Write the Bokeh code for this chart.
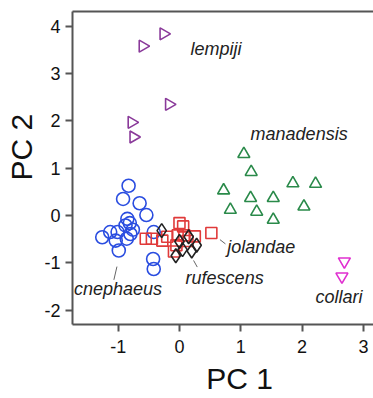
from bokeh.plotting import figure
from bokeh.models import LinearAxis, FixedTicker, Range1d
from bokeh.core.properties import value
from bokeh.embed import file_html
from bokeh.resources import INLINE
import numpy as np

# --- data ---
cn_x = [-0.83, -0.92, -0.65, -0.54, -0.85, -0.81, -0.88, -1.13, -1.26, -1.01, -0.80, -1.04, -0.86, -0.99, -0.42, -0.43, -0.42, -0.76]
cn_y = [0.63, 0.35, 0.26, 0.01, -0.07, -0.16, -0.21, -0.35, -0.46, -0.35, -0.39, -0.53, -0.49, -0.74, -0.35, -0.92, -1.13, -0.30]

jo_x = [-0.55, -0.45, -0.28, 0.00, 0.06, -0.03, 0.08, 0.13, -0.09, -0.05, 0.52, 0.25, -0.20]
jo_y = [-0.49, -0.49, -0.53, -0.16, -0.23, -0.42, -0.42, -0.54, -0.76, -0.63, -0.37, -0.44, -0.45]

ru_x = [-0.29, 0.00, -0.06, 0.05, 0.20, 0.28, 0.15]
ru_y = [-0.32, -0.55, -0.85, -0.72, -0.75, -0.63, -0.45]

ma_x = [1.05, 1.17, 0.72, 1.16, 1.53, 1.85, 2.22, 0.83, 1.26, 1.53, 2.03]
ma_y = [1.30, 0.92, 0.53, 0.37, 0.37, 0.68, 0.67, 0.12, 0.08, -0.09, 0.19]

le_x = [-0.60, -0.26, -0.17, -0.78, -0.75]
le_y = [3.58, 3.84, 2.35, 1.97, 1.66]

co_x = [2.69, 2.65]
co_y = [-0.97, -1.29]

# species labels
lab_text = ["lempiji", "manadensis", "jolandae", "rufescens", "cnephaeus", "collari"]
lab_x = [0.18, 1.16, 0.78, 0.10, -1.72, 2.22]
lab_y = [3.53, 1.73, -0.67, -1.33, -1.56, -1.73]

# leader lines
ld_x0 = [-1.02, 0.66, 0.23]
ld_y0 = [-1.08, -0.51, -0.95]
ld_x1 = [-1.07, 0.75, 0.29]
ld_y1 = [-1.36, -0.60, -1.09]

x_ticks = [-1, 0, 1, 2, 3]
y_ticks = [-2, -1, 0, 1, 2, 3, 4]
x_title, y_title = "PC 1", "PC 2"

FONT = "Liberation Sans"
AX = "#555555"
NB = "\u00a0"

p = figure(width=373, height=398, output_backend="svg", toolbar_location=None,
           x_range=Range1d(-1.745, 3.165), y_range=Range1d(-2.304, 4.313),
           min_border_left=72, min_border_right=0, min_border_top=11, min_border_bottom=74)
p.outline_line_color = None
p.grid.visible = False
p.background_fill_color = "white"
p.border_fill_color = "white"

for ax, ticks in ((p.xaxis[0], x_ticks), (p.yaxis[0], y_ticks)):
    ax.ticker = FixedTicker(ticks=ticks)
    ax.major_label_overrides = {t: str(t) for t in ticks}
    ax.major_label_text_font = FONT
    ax.major_label_text_font_size = "18px"
    ax.major_label_text_color = "#111111"
    ax.axis_label_text_font = FONT
    ax.axis_label_text_font_style = "normal"
    ax.axis_label_text_font_size = "30px"
    ax.axis_label_text_color = "#111111"
    ax.axis_line_color = AX
    ax.axis_line_width = 2
    ax.major_tick_line_color = AX
    ax.major_tick_line_width = 2
    ax.major_tick_out = 7
    ax.major_tick_in = 0
    ax.minor_tick_line_color = None

# titles offset along the axis as in the reference
p.xaxis[0].axis_label = NB * 4 + x_title
p.yaxis[0].axis_label = NB * 5 + y_title
p.xaxis[0].major_label_standoff = 8
p.xaxis[0].axis_label_standoff = 6
p.yaxis[0].major_label_standoff = 5
p.yaxis[0].axis_label_standoff = 3

top = LinearAxis(ticker=FixedTicker(ticks=[]), major_tick_line_color=None, minor_tick_line_color=None,
                 major_label_standoff=0, axis_line_color=AX, axis_line_width=2,
                 major_tick_out=0, major_tick_in=0)
p.add_layout(top, "above")

lw = 1.6
p.scatter(cn_x, cn_y, marker="circle", size=13, fill_color=None, line_color="#2a4de0", line_width=lw)
p.scatter(jo_x, jo_y, marker="square", size=11, fill_color=None, line_color="#e03a3a", line_width=lw)
p.scatter(ru_x, ru_y, marker="diamond", size=14, fill_color=None, line_color="#222222", line_width=lw)
p.scatter(ma_x, ma_y, marker="triangle", size=12, fill_color=None, line_color="#2a8a4a", line_width=lw)
p.scatter(le_x, le_y, marker="triangle", angle=-np.pi / 2, size=12, fill_color=None, line_color="#8a3a9a", line_width=lw)
p.scatter(co_x, co_y, marker="inverted_triangle", size=12, fill_color=None, line_color="#e030d0", line_width=lw)

p.segment(ld_x0, ld_y0, ld_x1, ld_y1, line_color="#666666", line_width=1)

p.text(lab_x, lab_y, text=lab_text, text_font=value(FONT), text_font_style="italic",
       text_font_size="18px", text_color="#222222", text_baseline="middle", text_align="left")

open("out.html", "w").write(file_html(p, INLINE))
